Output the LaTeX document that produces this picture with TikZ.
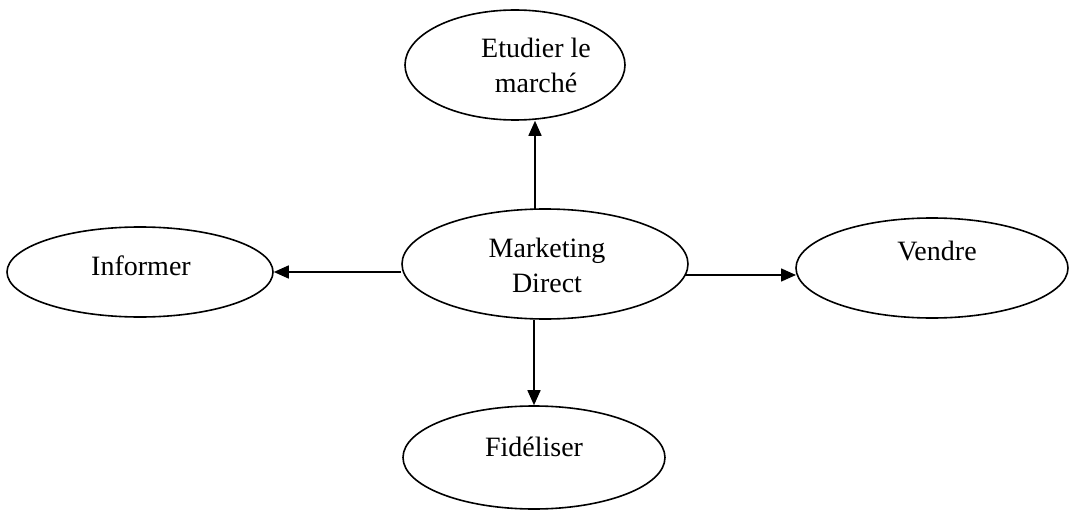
\documentclass[tikz,border=0pt]{standalone}
\usepackage{fontspec}
\setmainfont{Liberation Serif}
\usetikzlibrary{shapes.geometric,arrows.meta,calc}
\begin{document}
\begin{tikzpicture}[x=1pt,y=-1pt,
  oval/.style={draw,ellipse,line width=1.6pt,inner sep=0pt},
  lbl/.style={font=\fontsize{28}{35}\selectfont,align=center,inner sep=0pt},
  arr/.style={line width=1.6pt,-{Triangle[length=15pt,width=13pt]}}]
\useasboundingbox (0,0) rectangle (1072,511);
\node[oval,minimum width=220pt,minimum height=110pt] (et) at (515,65) {};
\node[oval,minimum width=286pt,minimum height=110pt] (md) at (545,264) {};
\node[oval,minimum width=266pt,minimum height=90pt] (inf) at (140,272) {};
\node[oval,minimum width=272pt,minimum height=100pt] (ve) at (932,268) {};
\node[oval,minimum width=262pt,minimum height=103pt] (fi) at (534,457.5) {};
\node[lbl] (etT) at (536,65.5) {Etudier le\\march\'e};
\node[lbl] (mdT) at (547,265) {Marketing\\Direct};
\node[lbl,anchor=base] (infT) at (141,275) {Informer};
\node[lbl,anchor=base] (veT) at (937,260) {Vendre};
\node[lbl,anchor=base] (fiT) at (534,456) {Fid\'eliser};
\coordinate (up) at (535,209);
\draw[arr] (up) -- (up |- et.south);
\draw[arr] (fi.north |- md.south) -- (fi.north);
\draw[arr] (inf.east -| md.west) -- (inf.east);
\coordinate (rt) at (685,275);
\draw[arr] (rt) -- (796,275);
\end{tikzpicture}
\end{document}
